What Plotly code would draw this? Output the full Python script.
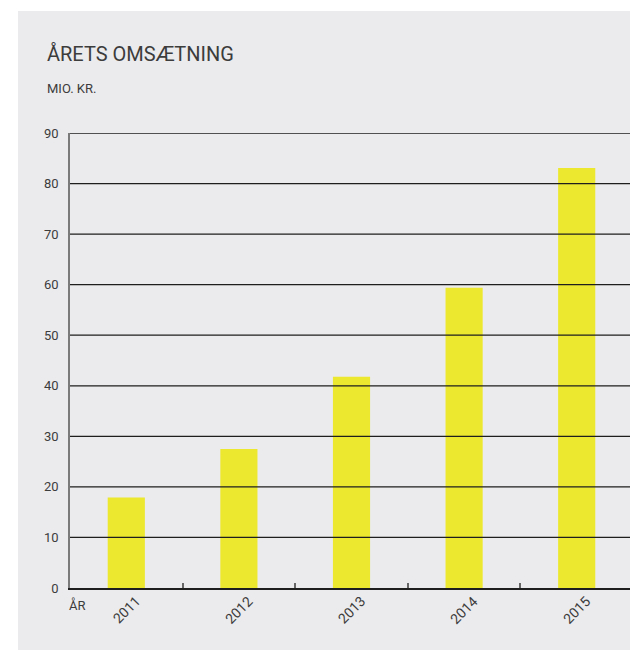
import plotly.graph_objects as go

years = ["2011", "2012", "2013", "2014", "2015"]
revenue = [17.9, 27.5, 41.8, 59.4, 83.1]
y_ticks = [0, 10, 20, 30, 40, 50, 60, 70, 80, 90]

FONT = "Roboto"
TXT = "#3c3c3c"
PANEL = "#ebebed"
BAR = "#ece830"

W, H = 630, 650
L, R, T, B = 70, 0, 133, 62
pw, ph = W - L - R, H - T - B

fig = go.Figure()
fig.add_trace(go.Bar(x=years, y=revenue, marker=dict(color=BAR, line=dict(width=0)),
                     width=0.33, hoverinfo="skip"))

# grey panel
fig.add_shape(type="rect", xref="paper", yref="paper",
              x0=(18 - L) / pw, x1=1.05, y0=-(B + 5) / ph, y1=(H - 11 - B) / ph,
              fillcolor=PANEL, line=dict(width=0), layer="below")

# gridlines drawn over bars
for v in y_ticks[1:]:
    fig.add_shape(type="line", xref="paper", yref="y", x0=0, x1=1, y0=v, y1=v,
                  line=dict(color="#1e1e1e", width=1.3), layer="above")

fig.update_layout(
    width=W, height=H,
    margin=dict(l=L, r=R, t=T, b=B),
    paper_bgcolor="white", plot_bgcolor=PANEL,
    showlegend=False, bargap=0.67,
    font=dict(family=FONT, color=TXT),
    xaxis=dict(type="category", range=[-0.5, -0.5 + pw / 112.6], tickson="boundaries",
               ticks="inside", ticklen=5, tickwidth=1.5, tickcolor="#666",
               showline=True, linecolor="#1e1e1e", linewidth=1.5,
               showticklabels=False, showgrid=False),
    yaxis=dict(range=[0, 90], tickvals=y_ticks, showgrid=False, zeroline=False,
               showline=True, linecolor="#7a7a7a", linewidth=1.5,
               ticks="", ticklabelstandoff=7, tickfont=dict(size=13, color=TXT)),
)

# rotated category labels centred under each bar (category index positions)
for i, yr in enumerate(years):
    fig.add_annotation(text=yr, x=i, xref="x", y=0, yref="paper", yshift=-22,
                       xanchor="center", yanchor="middle", textangle=-45,
                       showarrow=False, font=dict(size=14, color=TXT, family=FONT))

fig.add_annotation(text="ÅRETS OMSÆTNING", xref="paper", yref="paper",
                   x=(45 - L) / pw, y=(H - 54 - B) / ph, xanchor="left", yanchor="middle",
                   showarrow=False, font=dict(size=20, color=TXT, family=FONT))
fig.add_annotation(text="MIO. KR.", xref="paper", yref="paper",
                   x=(45 - L) / pw, y=(H - 89 - B) / ph, xanchor="left", yanchor="middle",
                   showarrow=False, font=dict(size=13, color=TXT, family=FONT))
fig.add_annotation(text="ÅR", xref="paper", yref="paper",
                   x=(67 - L) / pw, y=(H - 605 - B) / ph, xanchor="left", yanchor="middle",
                   showarrow=False, font=dict(size=13, color=TXT, family=FONT))

fig.write_html("out.html")
